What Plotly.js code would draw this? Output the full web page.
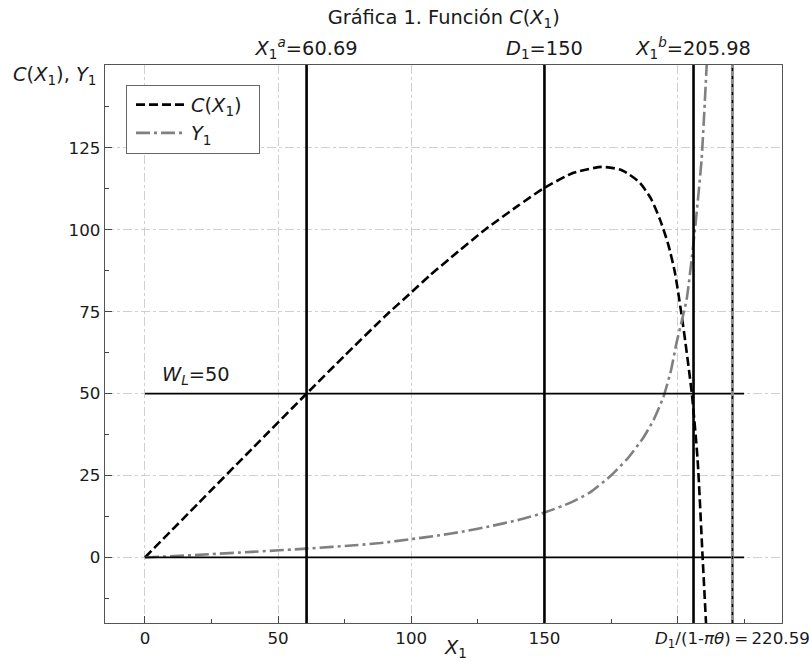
<!DOCTYPE html>
<html>
<head>
<meta charset="utf-8">
<script src="https://cdn.plot.ly/plotly-3.0.1.min.js"></script>
<style>html,body{margin:0;padding:0;background:#fff;}#chart{width:809px;height:662px;}</style>
</head>
<body>
<div id="chart"></div>
<script>
// ---- data ----
const cX = [0, 20, 40, 60.69, 75, 90, 100, 107, 115, 127.8, 140, 149.6, 160.9, 171.5, 178.4, 182, 185.9, 190, 193.4, 196.5, 199, 202.1, 205.3, 207.5, 209.4, 210.8];
const cY = [0, 16.5, 33, 50, 61.6, 73.5, 80.9, 86.1, 91.6, 100.1, 107.3, 112.6, 117.4, 119.2, 118.4, 116.8, 114.3, 109.5, 103.1, 95.5, 86.9, 70.6, 50.3, 30, 0, -22];

const y1X = [0, 20, 40, 60.69, 80, 88.4, 100, 110, 120, 130, 140, 150, 160, 167, 175, 181, 187, 191, 194.6, 197.5, 199.6, 203.4, 206.5, 209, 210.9, 212];
const y1Y = [0, 0.8, 1.7, 2.7, 3.8, 4.4, 5.6, 6.7, 8.0, 9.6, 11.4, 13.7, 16.8, 19.8, 25, 30, 36.4, 42, 48.8, 57, 65.5, 78.8, 100, 121.4, 150, 170];

const vLinesX = [60.69, 150, 205.98];          // X1a, D1, X1b
const asymptoteX = 220.59;                      // D1/(1-πθ)
const hLinesY = [0, 50];                        // 0 and W_L
const hLineSpan = [0, 225];
const WL = 50;

const TS = '\u2009';
const xTickVals = [0, 50, 100, 150, 200, 220.59];
const xTickText = ['0', '50', '100', '150', '', '<i>D</i><sub>1</sub>/(1-<i>πθ</i>)' + TS + '=' + TS + '220.59'];
const topTickVals = [60.69, 150, 205.98];
const topTickText = ['<i>X</i><sub>1</sub><sup><i>a</i></sup>=60.69', '<i>D</i><sub>1</sub>=150', '<i>X</i><sub>1</sub><sup><i>b</i></sup>=205.98'];
const yTickVals = [0, 25, 50, 75, 100, 125];

const xRange = [-15, 239.2];
const yRange = [-20, 150.3];

// ---- traces ----
const traces = [
  {x: cX, y: cY, type: 'scatter', mode: 'lines', name: '<i>C</i>(<i>X</i><sub>1</sub>)\u00a0\u00a0',
   line: {color: '#000', width: 2.6, dash: '9px,4px', shape: 'spline', smoothing: 0.6}},
  {x: y1X, y: y1Y, type: 'scatter', mode: 'lines', name: '<i>Y</i><sub>1</sub>',
   line: {color: '#808080', width: 2.6, dash: '14px,4px,3px,4px', shape: 'spline', smoothing: 0.5}},
  {x: topTickVals, y: topTickVals.map(() => null), xaxis: 'x2', yaxis: 'y', showlegend: false, hoverinfo: 'skip', mode: 'lines'}
];

const shapes = [];
vLinesX.forEach(v => shapes.push({type: 'line', xref: 'x', yref: 'paper', x0: v, x1: v, y0: 0, y1: 1,
  line: {color: '#000', width: 2.6}, layer: 'above'}));
hLinesY.forEach(h => shapes.push({type: 'line', xref: 'x', yref: 'y', x0: hLineSpan[0], x1: hLineSpan[1], y0: h, y1: h,
  line: {color: '#000', width: 1.8}, layer: 'above'}));
shapes.push({type: 'line', xref: 'x', yref: 'paper', x0: asymptoteX, x1: asymptoteX, y0: 0, y1: 1,
  line: {color: '#8c8c8c', width: 3}, layer: 'above'});
shapes.push({type: 'line', xref: 'x', yref: 'paper', x0: asymptoteX, x1: asymptoteX, y0: 0, y1: 1,
  line: {color: '#000', width: 1.4, dash: '3px,5px'}, layer: 'above'});

const FAM = 'DejaVu Sans';
const TXT = '#1a1a1a';
const SMALL = 16.7, BIG = 19.4;
const axisCommon = {
  showline: true, linecolor: '#555', linewidth: 1.2, zeroline: false,
  ticks: 'inside', ticklen: 7, tickwidth: 1, tickcolor: '#444',
  showgrid: true, gridcolor: '#c4c4c4', gridwidth: 0.8, griddash: 'dashdot',
  tickfont: {family: FAM, size: SMALL, color: TXT}
};

const layout = {
  width: 809, height: 662,
  margin: {l: 105, r: 27, t: 65, b: 39, pad: 0},
  paper_bgcolor: '#fff', plot_bgcolor: '#fff',
  font: {family: FAM, size: SMALL, color: TXT},
  showlegend: true,
  title: {text: 'Gráfica 1. Función <i>C</i>(<i>X</i><sub>1</sub>)', font: {family: FAM, size: BIG, color: TXT},
          x: 0.5485, xanchor: 'center', y: 0.974, yanchor: 'middle'},
  xaxis: Object.assign({}, axisCommon, {
    range: xRange, tickmode: 'array', tickvals: xTickVals, ticktext: xTickText, mirror: true,
    ticklabeloverflow: 'allow',
    minor: {tick0: 25, dtick: 50, ticks: 'inside', ticklen: 4, tickcolor: '#444', showgrid: false}
  }),
  xaxis2: {
    overlaying: 'x', side: 'top', range: xRange, tickmode: 'array', tickvals: topTickVals, ticktext: topTickText,
    showgrid: false, zeroline: false, showline: false, ticks: '', anchor: 'y', ticklabelstandoff: 5,
    ticklabeloverflow: 'allow',
    tickfont: {family: FAM, size: BIG, color: TXT}
  },
  yaxis: Object.assign({}, axisCommon, {
    range: yRange, tickmode: 'array', tickvals: yTickVals, mirror: true,
    minor: {tick0: -12.5, dtick: 25, ticks: 'inside', ticklen: 4, tickcolor: '#444', showgrid: false}
  }),
  legend: {x: 0.031, y: 0.965, xanchor: 'left', yanchor: 'top', bgcolor: '#fff', bordercolor: '#666', borderwidth: 1,
           font: {family: FAM, size: BIG, color: TXT}, tracegroupgap: 4, itemwidth: 50, indentation: 4},
  shapes: shapes,
  annotations: [
    {text: '<i>W</i><sub><i>L</i></sub>=' + WL, xref: 'x', yref: 'y', x: 5.5, y: WL + 5.4, xanchor: 'left', yanchor: 'middle',
     showarrow: false, font: {family: FAM, size: BIG, color: TXT}},
    {text: '<i>C</i>(<i>X</i><sub>1</sub>), <i>Y</i><sub>1</sub>', xref: 'paper', yref: 'paper', x: -0.011, y: 0.982, xanchor: 'right', yanchor: 'middle',
     showarrow: false, font: {family: FAM, size: BIG, color: TXT}},
    {text: '<i>X</i><sub>1</sub>', xref: 'paper', yref: 'paper', x: 0.517, y: -0.045, xanchor: 'center', yanchor: 'middle',
     showarrow: false, font: {family: FAM, size: BIG, color: TXT}}
  ]
};

Plotly.newPlot('chart', traces, layout, {displayModeBar: false, staticPlot: true});
</script>
</body>
</html>
